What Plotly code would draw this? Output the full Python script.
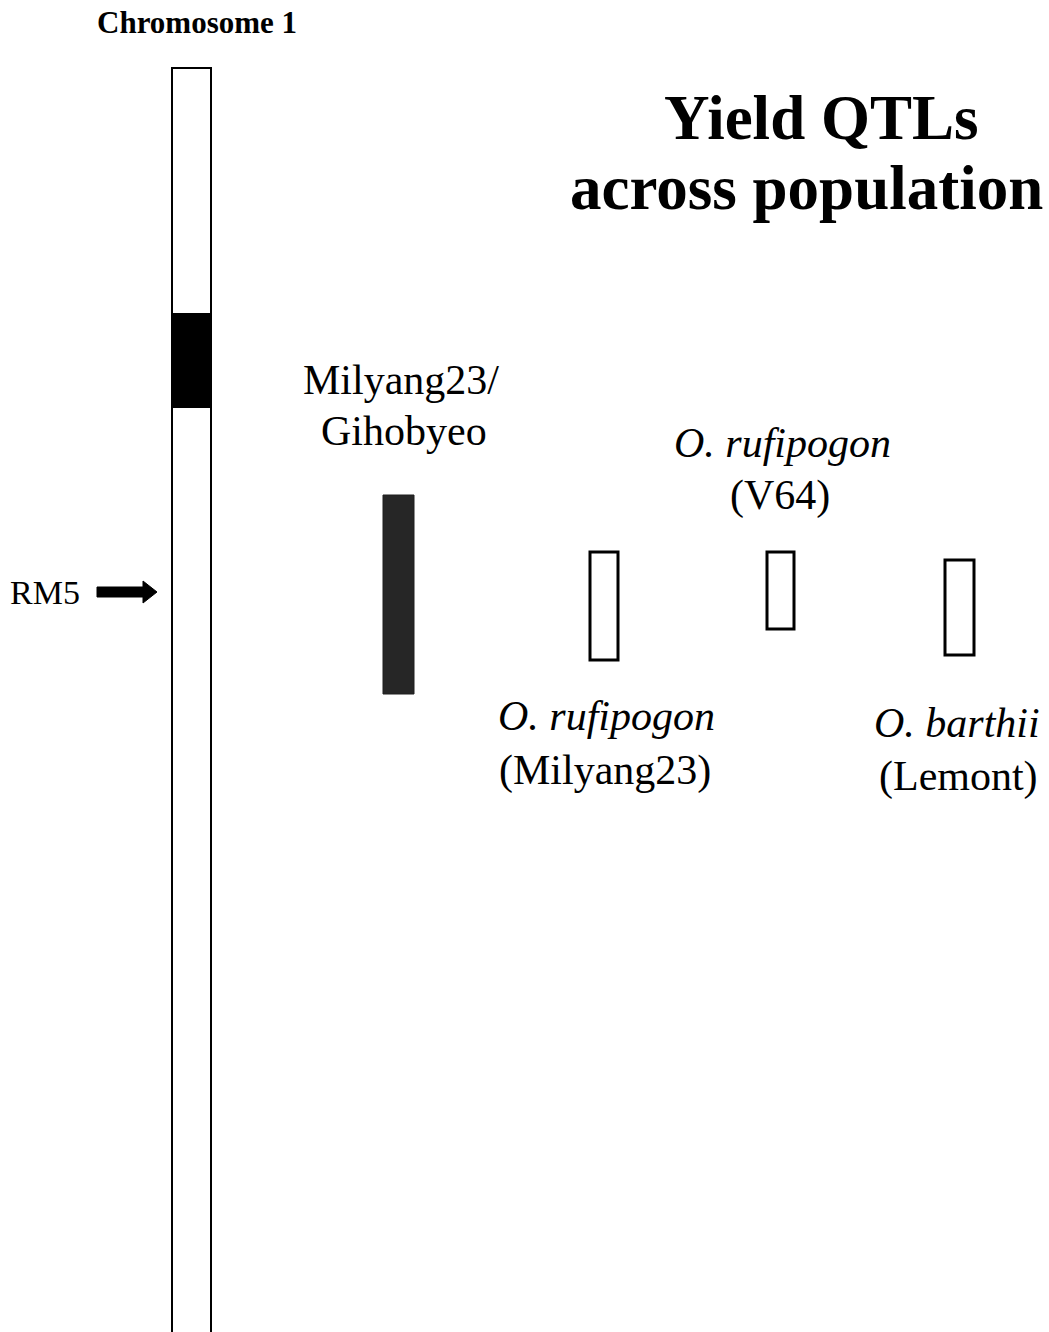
import plotly.graph_objects as go

# ---- data (chromosome coordinate units, top = 0 at page top) ----
chrom_name = "Chromosome 1"
chrom_start = 68
chrom_end = 1345
centromere_start = 314
centromere_end = 407
marker_name = "RM5"
marker_pos = 592

populations = ["Milyang23/Gihobyeo", "O. rufipogon (Milyang23)", "O. rufipogon (V64)", "O. barthii (Lemont)"]
qtl_start = [495, 551, 551, 559]
qtl_end = [694, 661, 630, 656]
qtl_filled = [True, False, False, False]

SERIF = "Liberation Serif, Times New Roman, serif"

fig = go.Figure()
fig.update_layout(
    width=1049, height=1332,
    margin=dict(l=0, r=0, t=0, b=0),
    paper_bgcolor="white", plot_bgcolor="white",
    showlegend=False,
    xaxis=dict(range=[0, 1049], visible=False, fixedrange=True),
    yaxis=dict(range=[1332, 0], visible=False, fixedrange=True),
)

shapes = []
# chromosome
chrom_x = (172, 211)
shapes.append(dict(type="rect", xref="x", yref="y", x0=chrom_x[0], x1=chrom_x[1],
                   y0=chrom_start, y1=chrom_end, line=dict(color="black", width=2), fillcolor="white"))
shapes.append(dict(type="rect", xref="x", yref="y", x0=chrom_x[0], x1=chrom_x[1],
                   y0=centromere_start, y1=centromere_end, line=dict(color="black", width=2), fillcolor="black"))

# QTL bars
bar_x = [(383, 414), (589, 619), (766, 795), (944, 975)]
for (x0, x1), s, e, f in zip(bar_x, qtl_start, qtl_end, qtl_filled):
    if f:
        shapes.append(dict(type="rect", xref="x", yref="y", x0=x0, x1=x1, y0=s, y1=e,
                           line=dict(color="#1e1e1e", width=1), fillcolor="#262626"))
    else:
        shapes.append(dict(type="rect", xref="x", yref="y", x0=x0 + 1, x1=x1 - 1, y0=s + 1, y1=e - 1,
                           line=dict(color="black", width=3), fillcolor="white"))

# marker arrow
m = marker_pos
shapes.append(dict(type="path", xref="x", yref="y",
                   path=f"M 97 {m-5} L 143 {m-5} L 143 {m-11} "
                        f"L 157 {m} L 143 {m+11} L 143 {m+5} "
                        f"L 97 {m+5} Z",
                   line=dict(color="black", width=1), fillcolor="black"))
fig.update_layout(shapes=shapes)

# invisible trace so axes exist
fig.add_trace(go.Scatter(x=[0], y=[0], mode="markers", marker=dict(opacity=0), hoverinfo="skip"))

def txt(x, y, t, size, bold=False, italic=False):
    s = t
    if italic:
        s = f"<i>{s}</i>"
    if bold:
        s = f"<b>{s}</b>"
    fig.add_annotation(x=x, y=y, xref="x", yref="y", text=s, showarrow=False,
                       xanchor="center", yanchor="middle",
                       font=dict(family=SERIF, size=size, color="black"))

txt(197, 22, chrom_name, 31, bold=True)
txt(821, 118, "Yield QTLs", 63, bold=True)
txt(806, 188, "across population", 63, bold=True)
txt(45, 592, marker_name, 34)

txt(401, 380, "Milyang23/", 42)
txt(404, 431, "Gihobyeo", 42)
txt(782, 443, "O. rufipogon", 42, italic=True)
txt(780, 495, "(V64)", 42)
txt(606, 716, "O. rufipogon", 42, italic=True)
txt(605, 770, "(Milyang23)", 42)
txt(957, 723, "O. barthii", 42, italic=True)
txt(958, 776, "(Lemont)", 42)

fig.write_html("out.html", config={"displayModeBar": False},
               post_script="document.body.style.margin='0';document.body.style.overflow='hidden';")
